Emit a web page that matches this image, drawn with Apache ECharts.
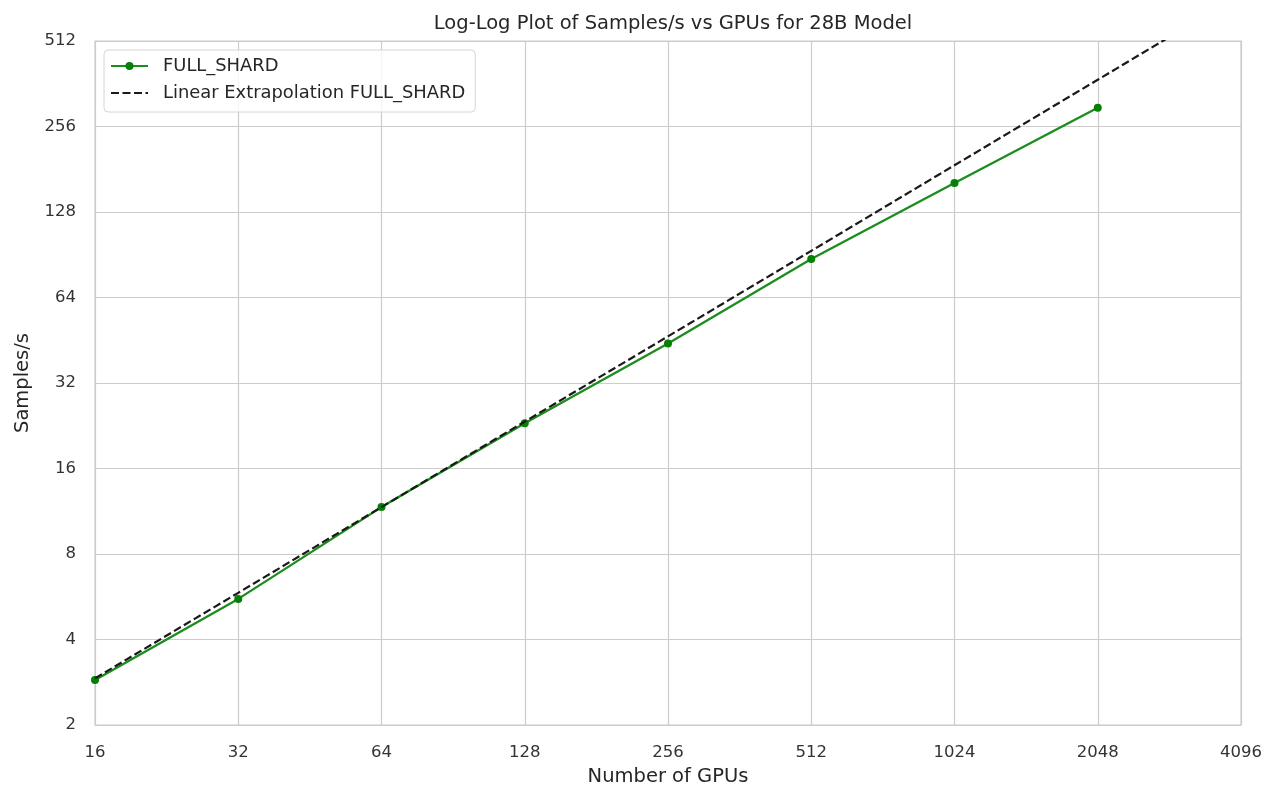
<!DOCTYPE html>
<html>
<head>
<meta charset="utf-8">
<script src="https://cdn.jsdelivr.net/npm/echarts@6/dist/echarts.min.js"></script>
<style>
html,body{margin:0;padding:0;background:#fff;}
#chart{width:1266px;height:787px;}
</style>
</head>
<body>
<div id="chart"></div>
<script>
const titleText = 'Log-Log Plot of Samples/s vs GPUs for 28B Model';
const gpus = [16, 32, 64, 128, 256, 512, 1024, 2048];
const samplesFullShard = [2.88, 5.56, 11.7, 23.1, 44.1, 87.4, 162, 298];
const extrapGpus = [16, 32, 64, 128, 256, 512, 1024, 2048, 4096];
const samplesExtrap = [2.92, 5.84, 11.7, 23.4, 46.7, 93.4, 187, 374, 748];
const seriesNames = ['FULL_SHARD', 'Linear Extrapolation FULL_SHARD'];

const font = 'DejaVu Sans';
const chart = echarts.init(document.getElementById('chart'), null, {renderer: 'canvas'});
chart.setOption({
  animation: false,
  backgroundColor: '#ffffff',
  textStyle: {fontFamily: font},
  title: {
    text: titleText, left: 668, top: 9, textAlign: 'center',
    textStyle: {fontFamily: font, fontSize: 19.5, fontWeight: 'normal', color: '#262626'}
  },
  legend: {
    orient: 'vertical', left: 104, top: 50,
    padding: [7, 10, 10, 6], itemGap: 9,
    itemWidth: 37, itemHeight: 10,
    borderColor: '#d6d6d6', borderWidth: 1, borderRadius: 4,
    backgroundColor: 'rgba(255,255,255,0.8)',
    textStyle: {fontFamily: font, fontSize: 17.9, color: '#262626', padding: [0, 0, 0, 10]},
    data: [
      {name: seriesNames[0]},
      {name: seriesNames[1], itemStyle: {opacity: 0}}
    ]
  },
  grid: {left: 95, right: 25, top: 41, bottom: 62, show: true, borderColor: '#cccccc', borderWidth: 1.2,
    containLabel: false, outerBoundsMode: 'none'},
  xAxis: {
    type: 'log', logBase: 2, min: 16, max: 4096,
    name: 'Number of GPUs', nameLocation: 'middle', nameGap: 42,
    nameTextStyle: {fontFamily: font, fontSize: 19.5, color: '#262626'},
    axisLine: {show: false}, axisTick: {show: false},
    axisLabel: {fontFamily: font, fontSize: 16.5, color: '#333333', margin: 19,
      formatter: v => String(Math.round(v))},
    splitLine: {show: true, lineStyle: {color: '#cccccc', width: 1.2}}
  },
  yAxis: {
    type: 'log', logBase: 2, min: 2, max: 512,
    name: 'Samples/s', nameLocation: 'middle', nameGap: 62, nameRotate: 90,
    nameTextStyle: {fontFamily: font, fontSize: 19.5, color: '#262626'},
    axisLine: {show: false}, axisTick: {show: false},
    axisLabel: {fontFamily: font, fontSize: 16.5, color: '#333333', margin: 19,
      formatter: v => String(Math.round(v))},
    splitLine: {show: true, lineStyle: {color: '#cccccc', width: 1.2}}
  },
  series: [
    {
      name: seriesNames[0], type: 'line',
      data: gpus.map((g, i) => [g, samplesFullShard[i]]),
      symbol: 'circle', symbolSize: 8, showSymbol: true,
      lineStyle: {color: '#1c8c1c', width: 2.3},
      itemStyle: {color: '#067f06'},
      z: 3
    },
    {
      name: seriesNames[1], type: 'line',
      data: extrapGpus.map((g, i) => [g, samplesExtrap[i]]),
      symbol: 'none', clip: true,
      lineStyle: {color: '#1a1a1a', width: 2.2, type: [8, 3.5]},
      itemStyle: {color: '#1a1a1a'},
      z: 4
    }
  ]
});
</script>
</body>
</html>
